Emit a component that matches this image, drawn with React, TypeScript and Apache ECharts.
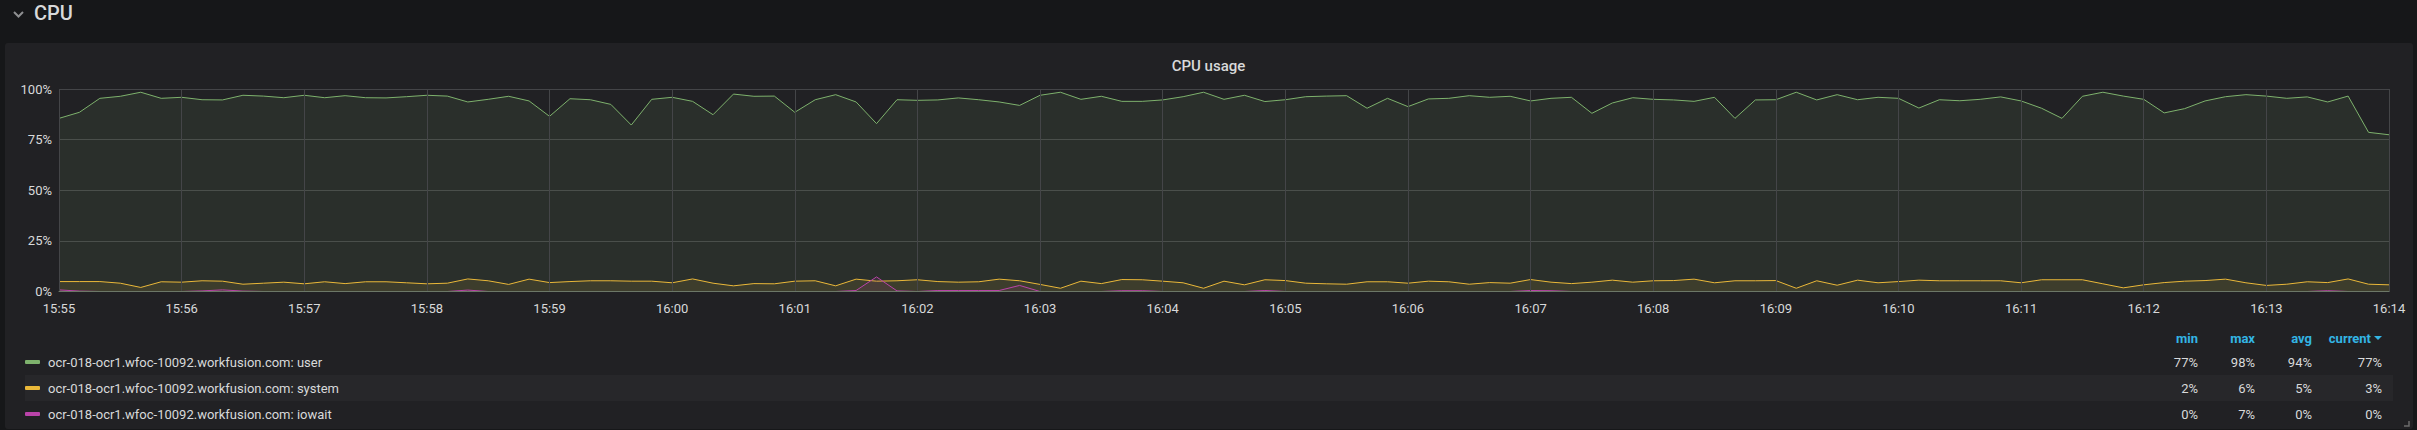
import React, { useEffect, useRef } from "react";
import * as echarts from "echarts";

// ---- data ----
const SERIES_NAMES = [
  "ocr-018-ocr1.wfoc-10092.workfusion.com: user",
  "ocr-018-ocr1.wfoc-10092.workfusion.com: system",
  "ocr-018-ocr1.wfoc-10092.workfusion.com: iowait",
];
const SERIES_COLORS = ["#7EB26D", "#EAB839", "#BA43A9"];

// one row per minute, samples every 10 s, 15:55:00 .. 16:14:00
const userValues = [
  85.5, 88.5, 95.4, 96.4, 98.4, 95.4,
  95.9, 94.7, 94.6, 96.9, 96.5, 95.7,
  96.9, 95.7, 96.7, 95.7, 95.6, 96.2,
  96.9, 96.5, 93.6, 94.9, 96.4, 94.1,
  86.5, 95.2, 94.7, 92.4, 82.2, 94.9,
  95.9, 93.9, 87.3, 97.5, 96.4, 96.5,
  88.5, 94.7, 97.2, 93.6, 82.9, 94.7,
  94.4, 94.6, 95.6, 94.7, 93.6, 91.9,
  96.9, 98.4, 94.9, 96.4, 93.9, 93.9,
  94.6, 96.2, 98.4, 94.9, 96.9, 93.8,
  94.7, 96.2, 96.5, 96.7, 90.5, 95.4,
  91.3, 95.1, 95.4, 96.7, 95.9, 96.4,
  94.1, 95.4, 95.9, 88.0, 93.1, 95.7,
  94.9, 94.6, 93.9, 95.9, 85.5, 94.6,
  94.7, 98.4, 94.6, 97.2, 94.7, 95.9,
  95.4, 90.6, 94.7, 94.2, 94.9, 96.1,
  94.1, 90.5, 85.5, 96.4, 98.4, 96.5,
  94.9, 88.2, 90.3, 94.1, 96.2, 97.2,
  96.5, 95.4, 96.1, 93.6, 96.5, 78.6,
  77.4,
];
const systemValues = [
  4.9, 4.9, 4.9, 4.1, 2.0, 4.8,
  4.6, 5.3, 5.1, 3.6, 4.1, 4.6,
  3.8, 4.8, 3.9, 4.8, 4.8, 4.3,
  3.8, 4.1, 6.2, 5.3, 3.5, 6.1,
  4.4, 4.9, 5.3, 5.3, 5.1, 5.1,
  4.3, 6.2, 4.1, 2.8, 3.9, 3.8,
  5.1, 5.3, 2.8, 6.1, 5.1, 5.3,
  5.8, 4.9, 4.6, 4.8, 6.1, 5.3,
  3.5, 1.6, 5.1, 3.9, 5.9, 5.8,
  5.1, 4.3, 1.6, 5.1, 3.3, 5.8,
  5.4, 4.1, 3.8, 3.6, 4.8, 4.8,
  4.1, 5.1, 4.8, 3.6, 4.4, 4.1,
  5.9, 4.6, 3.9, 4.6, 5.6, 4.6,
  5.3, 5.4, 6.1, 4.3, 5.3, 5.3,
  5.4, 1.6, 5.3, 3.1, 5.6, 4.3,
  4.9, 5.6, 5.3, 5.3, 5.3, 5.3,
  4.3, 5.8, 5.8, 5.8, 3.8, 1.8,
  3.3, 4.4, 5.1, 5.4, 6.1, 4.3,
  3.0, 3.6, 4.8, 4.4, 6.2, 3.6,
  3.3,
];
const iowaitValues = [
  0.8, 0.2, 0, 0, 0, 0,
  0, 0.3, 0.8, 0.2, 0, 0,
  0, 0, 0, 0, 0, 0,
  0, 0, 0.7, 0, 0, 0,
  0, 0, 0, 0, 0, 0,
  0, 0, 0, 0, 0, 0,
  0, 0, 0, 0.5, 7.2, 0.3,
  0, 0.5, 0.5, 0.5, 0.5, 3.0,
  0, 0, 0, 0, 0.4, 0.4,
  0, 0, 0, 0, 0, 0.5,
  0, 0, 0, 0, 0, 0,
  0, 0, 0, 0, 0, 0,
  0.5, 0.4, 0, 0, 0, 0,
  0, 0, 0, 0, 0, 0,
  0, 0, 0, 0, 0, 0,
  0, 0, 0, 0, 0, 0,
  0, 0, 0, 0, 0, 0,
  0, 0, 0, 0, 0, 0,
  0, 0, 0, 0.4, 0, 0,
  0,
];
const SERIES_VALUES = [userValues, systemValues, iowaitValues];
const Y_TICKS = [0, 25, 50, 75, 100];
const STAT_HEADERS = ["min", "max", "avg", "current"];

const START_TIME = new Date(2019, 0, 1, 15, 55, 0).getTime();
const END_TIME = new Date(2019, 0, 1, 16, 14, 0).getTime();
const SAMPLE_MS = 10000;

const FONT = "Roboto, 'Noto Sans', sans-serif";
const TEXT = "#d8d9da";

function pct(v: number) {
  return Math.round(v) + "%";
}
function pad(n: number) {
  return n < 10 ? "0" + n : "" + n;
}

export default function App() {
  const ref = useRef<HTMLDivElement>(null);
  useEffect(() => {
    if (!ref.current) return;
    const chart = echarts.init(ref.current, undefined, { renderer: "svg" });

    const series = SERIES_VALUES.map((vals, i) => ({
      name: SERIES_NAMES[i],
      type: "line",
      data: vals.map((v, k) => [START_TIME + k * SAMPLE_MS, v]),
      showSymbol: false,
      symbol: "none",
      lineStyle: { width: 1, color: SERIES_COLORS[i] },
      itemStyle: { color: SERIES_COLORS[i] },
      areaStyle: { color: SERIES_COLORS[i], opacity: 0.1 },
      z: 2 + i,
    }));

    const colRight = [2198, 2255, 2312, 2382];
    const rowY = [362, 388, 414];
    const graphics: any[] = [
      {
        type: "rect",
        silent: true,
        z: -10,
        shape: { x: 5, y: 43, width: 2408, height: 386, r: 3 },
        style: { fill: "#212124" },
      },
      {
        type: "rect",
        silent: true,
        z: -9,
        shape: { x: 25, y: 375, width: 2368, height: 26 },
        style: { fill: "#27272a" },
      },
      {
        type: "polyline",
        silent: true,
        shape: { points: [[14, 12], [18.5, 16.5], [23, 12]] },
        style: { stroke: "#8e8f91", lineWidth: 2, fill: "none" },
      },
      {
        type: "text",
        silent: true,
        style: {
          text: "CPU",
          x: 34,
          y: 13,
          textVerticalAlign: "middle",
          fill: TEXT,
          font: `500 20px ${FONT}`,
        },
      },
      {
        type: "polyline",
        silent: true,
        shape: { points: [[2409, 421], [2409, 426], [2404, 426]] },
        style: { stroke: "#6b6b6b", lineWidth: 1.5, fill: "none" },
      },
      {
        type: "polygon",
        silent: true,
        shape: { points: [[2374, 336], [2382, 336], [2378, 340]] },
        style: { fill: "#33b5e5" },
      },
    ];
    STAT_HEADERS.forEach((h, c) => {
      graphics.push({
        type: "text",
        silent: true,
        style: {
          text: h,
          x: c === 3 ? 2371 : colRight[c],
          y: 338,
          textAlign: "right",
          textVerticalAlign: "middle",
          fill: "#33b5e5",
          font: `bold 13px ${FONT}`,
        },
      });
    });
    SERIES_VALUES.forEach((vals, r) => {
      const mn = Math.min(...vals);
      const mx = Math.max(...vals);
      const avg = vals.reduce((a, b) => a + b, 0) / vals.length;
      const cur = vals[vals.length - 1];
      [mn, mx, avg, cur].forEach((v, c) => {
        graphics.push({
          type: "text",
          silent: true,
          style: {
            text: pct(v),
            x: colRight[c],
            y: rowY[r],
            textAlign: "right",
            textVerticalAlign: "middle",
            fill: TEXT,
            font: `13px ${FONT}`,
          },
        });
      });
    });

    chart.setOption({
      animation: false,
      backgroundColor: "#161719",
      textStyle: { fontFamily: FONT },
      title: {
        text: "CPU usage",
        left: "center",
        top: 52,
        textStyle: {
          color: TEXT,
          fontSize: 15,
          fontWeight: 500,
          fontFamily: FONT,
          lineHeight: 18,
        },
      },
      legend: {
        orient: "vertical",
        left: 25,
        top: 354,
        height: 76,
        padding: 0,
        icon: "roundRect",
        itemWidth: 15,
        itemHeight: 4,
        itemGap: 10,
        selectedMode: false,
        data: SERIES_NAMES,
        textStyle: {
          color: TEXT,
          fontSize: 13,
          fontFamily: FONT,
          lineHeight: 16,
          padding: [0, 0, 0, 3],
        },
      },
      grid: { left: 59, right: 28, top: 89, bottom: 138.5, containLabel: false },
      xAxis: {
        type: "time",
        min: START_TIME,
        max: END_TIME,
        minInterval: 60000,
        maxInterval: 60000,
        splitNumber: 19,
        z: 10,
        axisLine: { show: true, lineStyle: { color: "#6c7767", width: 1 } },
        axisTick: { show: false },
        axisLabel: {
          color: TEXT,
          fontSize: 13,
          fontFamily: FONT,
          margin: 10,
          hideOverlap: false,
          showMinLabel: true,
          showMaxLabel: true,
          formatter: (v: number) => {
            const d = new Date(v);
            return pad(d.getHours()) + ":" + pad(d.getMinutes());
          },
        },
        splitLine: { show: true, lineStyle: { color: "#444548", width: 1 } },
      },
      yAxis: {
        type: "value",
        min: Y_TICKS[0],
        max: Y_TICKS[Y_TICKS.length - 1],
        interval: 25,
        axisLine: { show: false },
        axisTick: { show: false },
        axisLabel: {
          color: TEXT,
          fontSize: 13,
          fontFamily: FONT,
          margin: 7,
          formatter: "{value}%",
        },
        splitLine: { show: true, lineStyle: { color: "#444548", width: 1 } },
      },
      graphic: { elements: graphics },
      series,
    });
    return () => chart.dispose();
  }, []);
  return (
    <div
      style={{
        position: "fixed",
        left: 0,
        top: 0,
        width: 2417,
        height: 430,
        background: "#161719",
      }}
    >
      <div ref={ref} style={{ width: 2417, height: 430 }} />
    </div>
  );
}
